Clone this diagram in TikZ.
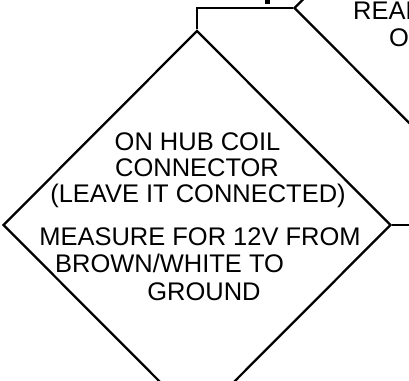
\documentclass[tikz,border=0pt]{standalone}
\usepackage{fontspec}
\setmainfont{Liberation Sans}
\usetikzlibrary{shapes.geometric}
\begin{document}
\begin{tikzpicture}[
  x=0.02cm,y=-0.02cm,
  line width=1.3pt,
  decision/.style={draw,diamond,inner sep=0pt,minimum width=7.76cm,minimum height=7.78cm},
  txt/.style={inner sep=0pt,font=\fontsize{14.5}{17}\selectfont}
]
  \useasboundingbox (0,0) rectangle (409,381);
  \clip (0,0) rectangle (409,381);

  \node[decision] (hub) at (197,225) {};
  \node[decision] (read) at (488,8) {};

  \node[txt,anchor=base] (l1) at (197.5,151) {ON HUB COIL};
  \node[txt,anchor=base] (l2) at (197,177) {CONNECTOR};
  \node[txt,anchor=base] (l3) at (198,203) {(LEAVE IT CONNECTED)};
  \node[txt,anchor=base] (l4) at (200,246) {MEASURE FOR 12V FROM};
  \node[txt,anchor=base west] (l5) at (54,273) {BROWN/WHITE TO};
  \node[txt,anchor=base] (l6) at (204,301) {GROUND};

  \node[txt,anchor=base west] (r1) at (352,20) {READ};
  \node[txt,anchor=base west] (r2) at (388,47) {O};

  \coordinate (exit) at (430,225);
  \coordinate (feedtop) at (267.5,-10);
  \coordinate (feedend) at (267.5,4.5);

  \draw (hub.north) |- (read.west);
  \draw (hub.east) -- (exit);
  \draw[line width=2.85pt] (feedtop) -- (feedend);
\end{tikzpicture}
\end{document}
